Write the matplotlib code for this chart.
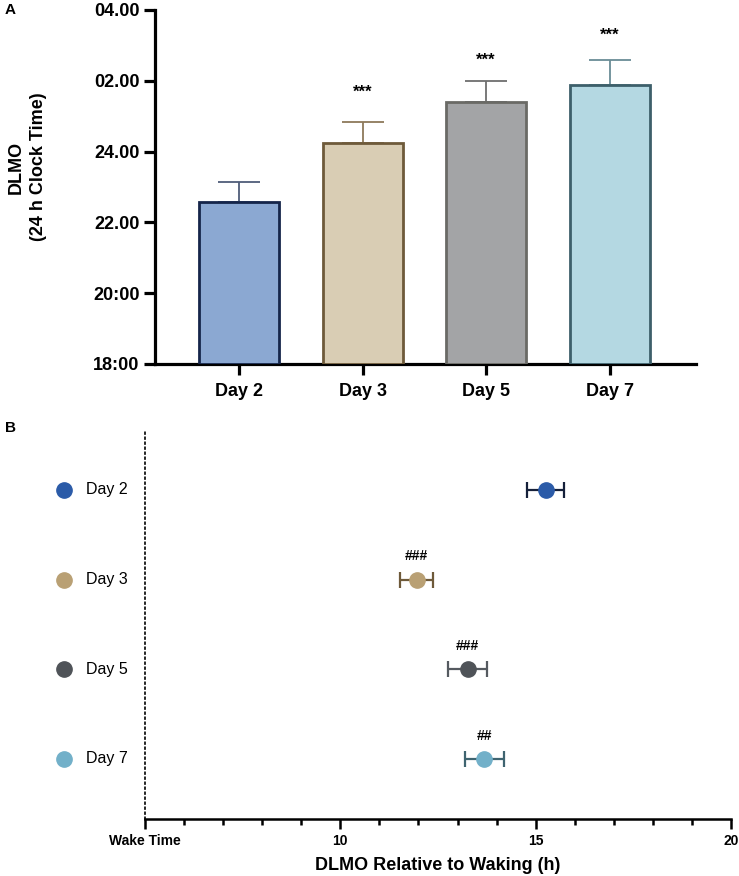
import numpy as np
import matplotlib
matplotlib.use("Agg")
import matplotlib.pyplot as plt
import matplotlib.transforms as mtransforms
from matplotlib.ticker import FixedLocator

plt.rcParams['font.family'] = ['Liberation Sans', 'DejaVu Sans']

# panel A data (clock hours, 24 = midnight)
days = ["Day 2", "Day 3", "Day 5", "Day 7"]
dlmo_clock = [22.58, 24.24, 25.40, 25.88]
dlmo_clock_sem = [0.56, 0.60, 0.59, 0.71]
star_labels = ["", "***", "***", "***"]
star_y = [0, 25.68, 26.59, 27.29]
clock_ticks = [18, 20, 22, 24, 26, 28]
clock_tick_labels = ["18:00", "20:00", "22.00", "24.00", "02.00", "04.00"]

# panel B data (hours after waking)
dlmo_wake = [15.26, 11.95, 13.26, 13.69]
dlmo_wake_sem = [0.47, 0.42, 0.50, 0.50]
hash_labels = ["", "###", "###", "##"]
wake_ticks = [5, 10, 15, 20]
wake_tick_labels = ["Wake Time", "10", "15", "20"]

bar_fill = ["#8ba8d2", "#d9cdb4", "#a3a4a6", "#b4d8e2"]
bar_edge = ["#15254a", "#6e5a3a", "#6a6a66", "#3d5f6a"]
err_top = ["#4f5d7a", "#8d7a5a", "#6e6e6e", "#6a8c96"]
dot_col = ["#2b5ba8", "#b9a074", "#4f5358", "#72b0c9"]
dot_err = ["#15203a", "#6e5a3a", "#555a60", "#3f6470"]

fig = plt.figure(figsize=(7.39, 8.76), dpi=100)

# ---- panel A
ax1 = fig.add_axes([0.2097, 0.5845, 0.7323, 0.4041])
x = np.arange(len(days))
ax1.bar(x, np.array(dlmo_clock) - 18, bottom=18, width=0.647,
        color=bar_fill, edgecolor=bar_edge, linewidth=2, zorder=3)
for i in range(len(days)):
    ax1.errorbar(x[i], dlmo_clock[i], yerr=[[0], [dlmo_clock_sem[i]]],
                 fmt='none', ecolor=err_top[i], elinewidth=1.3,
                 capsize=15, capthick=1.3, zorder=2)
    if star_labels[i]:
        ax1.text(x[i], star_y[i], star_labels[i], ha='center', va='center',
                 fontsize=12, fontweight='bold')
ax1.set_xlim(-0.68, 3.70)
ax1.set_ylim(18, 28)
ax1.set_yticks(clock_ticks)
ax1.set_yticklabels(clock_tick_labels)
ax1.set_xticks(x)
ax1.set_xticklabels(days)
ax1.spines['top'].set_visible(False)
ax1.spines['right'].set_visible(False)
for s in ['left', 'bottom']:
    ax1.spines[s].set_linewidth(2.3)
ax1.tick_params(width=2.3, length=8, labelsize=13, pad=3)
ax1.tick_params(axis='x', pad=6)
for lab in ax1.get_xticklabels() + ax1.get_yticklabels():
    lab.set_fontweight('bold')

fig.text(27 / 739, 1 - 167 / 876, "DLMO\n(24 h Clock Time)", rotation=90,
         ha='center', va='center', fontsize=13, fontweight='bold',
         multialignment='center', linespacing=1.4)
fig.text(5 / 739, 1 - 10 / 876, "A", ha='left', va='center',
         fontsize=11, fontweight='bold')
fig.text(5 / 739, 1 - 428 / 876, "B", ha='left', va='center',
         fontsize=11, fontweight='bold')

# ---- panel B
ax2 = fig.add_axes([0.1962, 0.0651, 0.7930, 0.4452])
y = np.arange(len(days))
for i in range(len(days)):
    ax2.errorbar(dlmo_wake[i], y[i], xerr=dlmo_wake_sem[i], fmt='o',
                 color=dot_col[i], markersize=11, ecolor=dot_err[i],
                 elinewidth=1.6, capsize=6, capthick=1.6, zorder=3)
    if hash_labels[i]:
        ax2.text(dlmo_wake[i], y[i] - 0.26, hash_labels[i], ha='center',
                 va='center', fontsize=10, fontweight='bold')
# legend-like labels on the left
trans = mtransforms.blended_transform_factory(ax2.transAxes, ax2.transData)
for i in range(len(days)):
    ax2.plot([-0.138], [y[i]], 'o', color=dot_col[i], markersize=11,
             transform=trans, clip_on=False)
    ax2.text(-0.101, y[i], days[i], transform=trans, ha='left', va='center',
             fontsize=11.5)

ax2.set_xlim(5, 20)
ax2.set_ylim(3.67, -0.68)
ax2.set_yticks([])
ax2.set_xticks(wake_ticks)
ax2.set_xticklabels(wake_tick_labels)
ax2.xaxis.set_minor_locator(FixedLocator([h for h in range(5, 21) if h % 5]))
ax2.spines['top'].set_visible(False)
ax2.spines['right'].set_visible(False)
ax2.spines['left'].set_linestyle((0, (1, 2)))
ax2.spines['left'].set_linewidth(1.2)
ax2.spines['bottom'].set_linewidth(1.8)
ax2.tick_params(axis='x', which='major', width=1.8, length=7, labelsize=10, pad=4)
ax2.tick_params(axis='x', which='minor', width=1.8, length=4.5)
for lab in ax2.get_xticklabels():
    lab.set_fontweight('bold')
ax2.set_xlabel("DLMO Relative to Waking (h)", fontsize=13, fontweight='bold',
               labelpad=6)

fig.savefig("out.png", dpi=100)
